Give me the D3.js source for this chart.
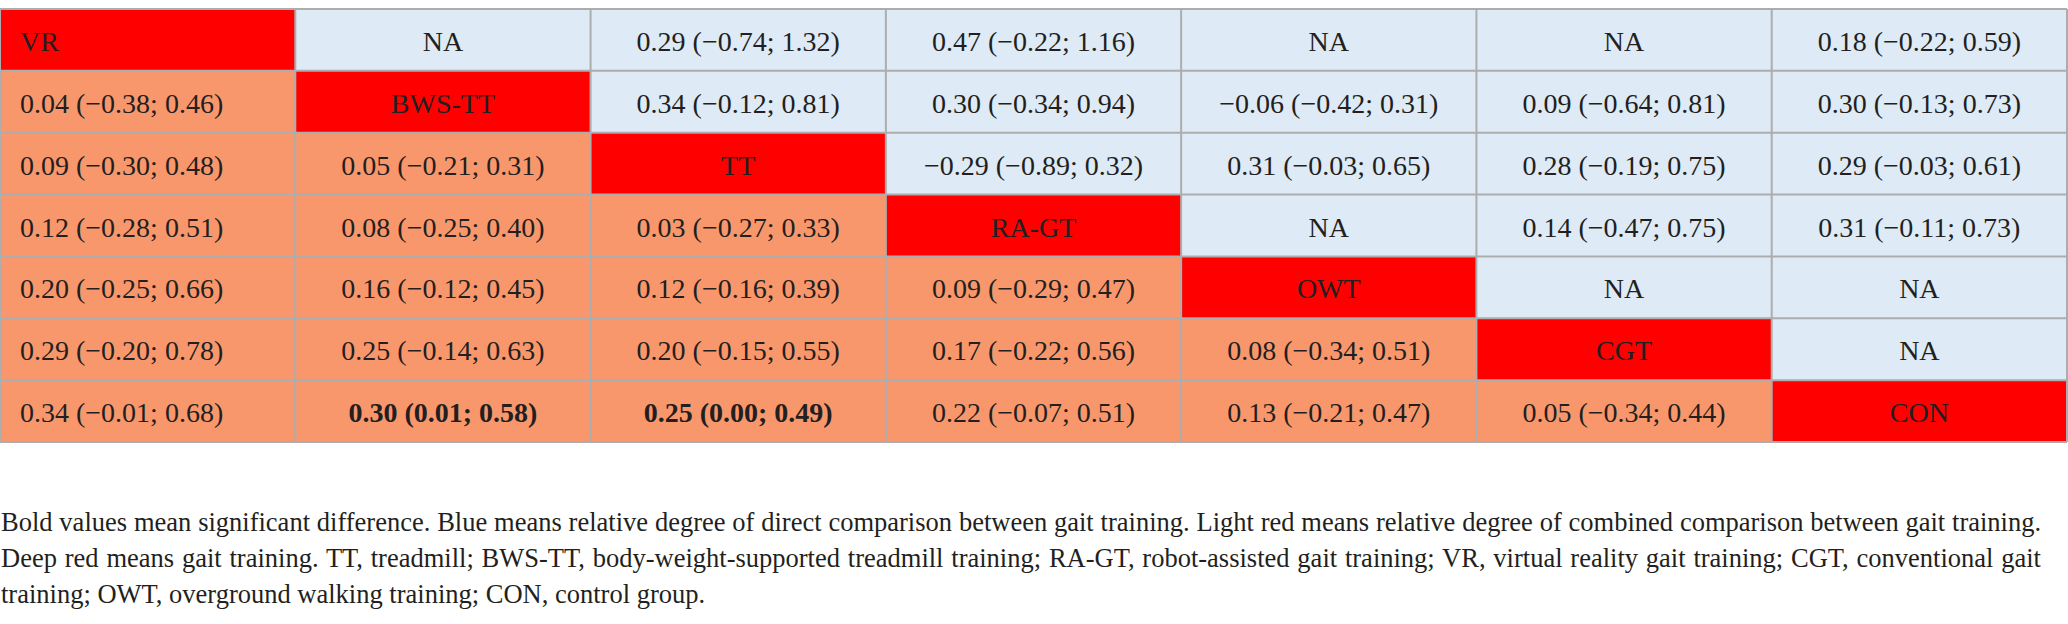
<!DOCTYPE html>
<html>
<head>
<meta charset="utf-8">
<script src="https://cdn.jsdelivr.net/npm/d3@7"></script>
<style>
html,body{margin:0;padding:0;background:#fff;}
svg{display:block;}
</style>
</head>
<body>
<svg id="chart" width="2068" height="624"></svg>
<script>
// ---- data ----
const treatments = ["VR", "BWS-TT", "TT", "RA-GT", "OWT", "CGT", "CON"];
const row1 = ["VR", "NA", "0.29 (−0.74; 1.32)", "0.47 (−0.22; 1.16)", "NA", "NA", "0.18 (−0.22; 0.59)"];
const row2 = ["0.04 (−0.38; 0.46)", "BWS-TT", "0.34 (−0.12; 0.81)", "0.30 (−0.34; 0.94)", "−0.06 (−0.42; 0.31)", "0.09 (−0.64; 0.81)", "0.30 (−0.13; 0.73)"];
const row3 = ["0.09 (−0.30; 0.48)", "0.05 (−0.21; 0.31)", "TT", "−0.29 (−0.89; 0.32)", "0.31 (−0.03; 0.65)", "0.28 (−0.19; 0.75)", "0.29 (−0.03; 0.61)"];
const row4 = ["0.12 (−0.28; 0.51)", "0.08 (−0.25; 0.40)", "0.03 (−0.27; 0.33)", "RA-GT", "NA", "0.14 (−0.47; 0.75)", "0.31 (−0.11; 0.73)"];
const row5 = ["0.20 (−0.25; 0.66)", "0.16 (−0.12; 0.45)", "0.12 (−0.16; 0.39)", "0.09 (−0.29; 0.47)", "OWT", "NA", "NA"];
const row6 = ["0.29 (−0.20; 0.78)", "0.25 (−0.14; 0.63)", "0.20 (−0.15; 0.55)", "0.17 (−0.22; 0.56)", "0.08 (−0.34; 0.51)", "CGT", "NA"];
const row7 = ["0.34 (−0.01; 0.68)", "0.30 (0.01; 0.58)", "0.25 (0.00; 0.49)", "0.22 (−0.07; 0.51)", "0.13 (−0.21; 0.47)", "0.05 (−0.34; 0.44)", "CON"];
const rows = [row1, row2, row3, row4, row5, row6, row7];
// significant (bold) cells as [row, col]
const boldCells = [[6, 1], [6, 2]];
const captionLines = [
  "Bold values mean significant difference. Blue means relative degree of direct comparison between gait training. Light red means relative degree of combined comparison between gait training.",
  "Deep red means gait training. TT, treadmill; BWS-TT, body-weight-supported treadmill training; RA-GT, robot-assisted gait training; VR, virtual reality gait training; CGT, conventional gait",
  "training; OWT, overground walking training; CON, control group."
];

// ---- styles ----
const COL_DIAG = "#ff0000";
const COL_UPPER = "#deeaf6";
const COL_LOWER = "#f9976c";
const COL_BORDER = "#adadad";
const TEXT_COL = "#231f20";
const FONT = "'Liberation Serif', 'DejaVu Serif', serif";

const svg = d3.select("#chart");
const x = d3.scaleBand().domain(d3.range(7)).range([0, 2067]).paddingInner(0).paddingOuter(0);
const y = d3.scaleBand().domain(d3.range(7)).range([9, 442]).paddingInner(0).paddingOuter(0);

const cells = [];
rows.forEach((r, i) => r.forEach((v, j) => {
  cells.push({
    i, j, v,
    bold: boldCells.some(b => b[0] === i && b[1] === j),
    type: i === j ? "diag" : (j > i ? "upper" : "lower")
  });
}));

const fill = d => d.type === "diag" ? COL_DIAG : d.type === "upper" ? COL_UPPER : COL_LOWER;

svg.append("g").selectAll("rect").data(cells).join("rect")
  .attr("x", d => x(d.j)).attr("y", d => y(d.i))
  .attr("width", x.bandwidth()).attr("height", y.bandwidth())
  .attr("fill", fill);

// grid lines
const grid = svg.append("g").attr("stroke", COL_BORDER).attr("stroke-width", 2);
const xEdges = d3.range(8).map(k => k < 7 ? x(k) : x(6) + x.bandwidth());
const yEdges = d3.range(8).map(k => k < 7 ? y(k) : y(6) + y.bandwidth());
grid.selectAll("line.v").data(xEdges).join("line").attr("class", "v")
  .attr("x1", d => d).attr("x2", d => d)
  .attr("y1", yEdges[0]).attr("y2", yEdges[7]);
grid.selectAll("line.h").data(yEdges).join("line").attr("class", "h")
  .attr("x1", xEdges[0]).attr("x2", xEdges[7])
  .attr("y1", d => d).attr("y2", d => d);

// cell texts
svg.append("g").selectAll("text").data(cells).join("text")
  .attr("x", d => d.j === 0 ? x(0) + 20 : x(d.j) + x.bandwidth() / 2)
  .attr("y", d => y(d.i) + 42)
  .attr("text-anchor", d => d.j === 0 ? "start" : "middle")
  .attr("font-family", FONT)
  .attr("font-size", 28)
  .attr("font-weight", d => d.bold ? "bold" : "normal")
  .attr("fill", TEXT_COL)
  .text(d => d.v);

// caption (first two lines justified via word spacing)
const cap = svg.append("g");
captionLines.forEach((t, k) => {
  const el = cap.append("text")
    .attr("x", 1)
    .attr("y", 531 + k * 36)
    .attr("font-family", FONT)
    .attr("font-size", 26.5)
    .attr("fill", TEXT_COL)
    .text(t);
  if (k < 2) {
    const w = el.node().getComputedTextLength();
    const spaces = (t.match(/ /g) || []).length;
    const extra = (2040 - w) / spaces;
    el.attr("word-spacing", extra.toFixed(2));
  }
});
</script>
</body>
</html>
